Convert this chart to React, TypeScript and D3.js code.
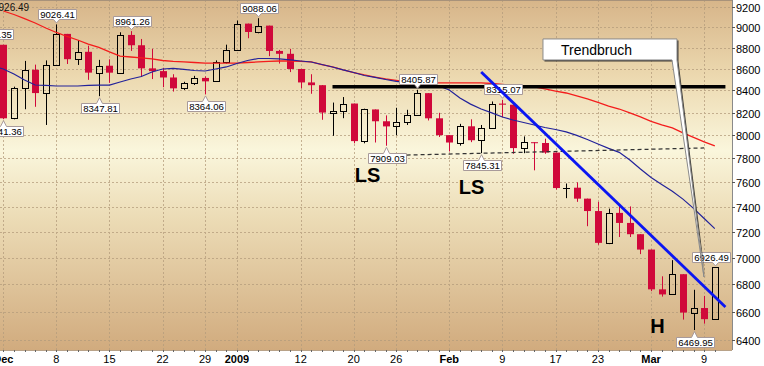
import React from "react";
import * as d3 from "d3";

// ---- data (DJIA daily, Nov 28 2008 .. Mar 10 2009) ----
const dates = [
  "2008-11-28",
  "2008-12-01", "2008-12-02", "2008-12-03", "2008-12-04", "2008-12-05",
  "2008-12-08", "2008-12-09", "2008-12-10", "2008-12-11", "2008-12-12",
  "2008-12-15", "2008-12-16", "2008-12-17", "2008-12-18", "2008-12-19",
  "2008-12-22", "2008-12-23", "2008-12-24", "2008-12-26",
  "2008-12-29", "2008-12-30", "2008-12-31",
  "2009-01-02",
  "2009-01-05", "2009-01-06", "2009-01-07", "2009-01-08", "2009-01-09",
  "2009-01-12", "2009-01-13", "2009-01-14", "2009-01-15", "2009-01-16",
  "2009-01-20", "2009-01-21", "2009-01-22", "2009-01-23",
  "2009-01-26", "2009-01-27", "2009-01-28", "2009-01-29", "2009-01-30",
  "2009-02-02", "2009-02-03", "2009-02-04", "2009-02-05", "2009-02-06",
  "2009-02-09", "2009-02-10", "2009-02-11", "2009-02-12", "2009-02-13",
  "2009-02-17", "2009-02-18", "2009-02-19", "2009-02-20",
  "2009-02-23", "2009-02-24", "2009-02-25", "2009-02-26", "2009-02-27",
  "2009-03-02", "2009-03-03", "2009-03-04", "2009-03-05", "2009-03-06",
  "2009-03-09", "2009-03-10",
];
const open = [
  8726.61,
  8829.04, 8149.09, 8419.09, 8591.69, 8376.24,
  8635.42, 8934.18, 8691.33, 8761.42, 8563.0,
  8629.68, 8564.53, 8924.14, 8824.34, 8604.99,
  8579.11, 8519.69, 8419.49, 8468.48,
  8515.55, 8483.93, 8668.39,
  8776.39,
  9034.69, 8952.89, 9015.1, 8769.7, 8742.46,
  8599.18, 8473.97, 8448.56, 8200.14, 8212.49,
  8281.22, 7949.09, 8228.1, 8122.8,
  8077.56, 8116.03, 8174.73, 8375.45, 8149.01,
  8000.86, 7936.83, 8078.36, 7956.66, 8063.07,
  8280.59, 8270.87, 7888.88, 7939.53, 7932.76,
  7850.41, 7552.6, 7555.63, 7465.95,
  7365.67, 7114.78, 7350.94, 7270.89, 7182.08,
  7062.93, 6763.29, 6726.02, 6875.84, 6594.44,
  6626.94, 6547.05,
];
const high = [
  8831.35,
  8829.04, 8435, 8675, 8640, 8680,
  9026.41, 8934.18, 8875, 8820, 8685,
  8690, 8950, 8961.26, 8885, 8790,
  8610, 8550, 8480, 8535,
  8530, 8680, 8830,
  9065,
  9035, 9088.06, 9015.1, 8780, 8790,
  8600, 8550, 8449, 8290, 8340,
  8281.22, 8235, 8228.1, 8175,
  8243, 8225, 8405.87, 8375.45, 8198,
  8001, 8100, 8140, 8090, 8300,
  8315.07, 8271, 7990, 7940, 7970,
  7850.41, 7590, 7600, 7466,
  7440, 7385, 7420, 7403, 7182.08,
  7063, 6860, 6982, 6876, 6760,
  6715, 6926.49,
];
const low = [
  8726.61,
  8141.36, 8140, 8230, 8252, 8090,
  8635.42, 8646, 8637, 8498, 8347.81,
  8470, 8560, 8770, 8525, 8505,
  8430, 8390, 8405, 8450,
  8364.06, 8480, 8650,
  8770,
  8892, 8940, 8720, 8650, 8570,
  8420, 8370, 8136, 7995, 8150,
  7930, 7930, 7937, 7909.03,
  8000, 8090, 8175, 8130, 7985,
  7860, 7910, 7940, 7845.31, 8063.07,
  8160, 7840, 7845, 7700, 7840,
  7540, 7470, 7440, 7245,
  7100, 7105, 7160, 7160, 7028,
  6750, 6710, 6726, 6544, 6469.95,
  6515, 6547.05,
];
const close = [
  8829.04,
  8149.09, 8419.09, 8591.69, 8376.24, 8635.42,
  8934.18, 8691.33, 8761.42, 8565.09, 8629.68,
  8564.53, 8924.14, 8824.34, 8604.99, 8579.11,
  8519.69, 8419.49, 8468.48, 8515.55,
  8483.93, 8668.39, 8776.39,
  9034.69,
  8952.89, 9015.1, 8769.7, 8742.46, 8599.18,
  8473.97, 8448.56, 8200.14, 8212.49, 8281.22,
  7949.09, 8228.1, 8122.8, 8077.56,
  8116.03, 8174.73, 8375.45, 8149.01, 8000.86,
  7936.83, 8078.36, 7956.66, 8063.07, 8280.59,
  8270.87, 7888.88, 7939.53, 7932.76, 7850.41,
  7552.6, 7555.63, 7465.95, 7365.67,
  7114.78, 7350.94, 7270.89, 7182.08, 7062.93,
  6763.29, 6726.02, 6875.84, 6594.44, 6626.94,
  6547.05, 6926.49,
];
// short moving average (blue)
const maShort = [
  8627, 8599, 8552, 8497, 8450, 8446, 8441, 8441, 8441, 8446, 8450,
  8450, 8478, 8506, 8529, 8571, 8599, 8604, 8595, 8585,
  8580, 8599, 8618, 8651, 8679, 8698, 8698, 8694, 8684, 8674,
  8665, 8641, 8618, 8590, 8566, 8538, 8520, 8501, 8484, 8475,
  8469, 8455, 8441, 8405, 8332, 8276, 8232, 8197, 8161, 8134,
  8112, 8090, 8068, 8050, 8029, 7999, 7963, 7924, 7886, 7852,
  7787, 7711, 7640, 7582, 7526, 7462, 7387, 7306, 7226,
];
// long moving average (red)
const maLong = [
  null, 9160, 9125, 9085, 9041, 8992, 8948, 8909, 8875, 8836, 8803,
  8760, 8721, 8712, 8703, 8694, 8679, 8670, 8665, 8660,
  8655, 8655, 8655, 8655, 8660, 8665, 8670, 8674, 8674, 8670,
  8665, 8641, 8618, 8590, 8566, 8543, 8524, 8506, 8492, 8478,
  8469, 8469, 8469, 8469, 8469, 8469, 8469, 8464, 8455, 8446,
  8441, 8432, 8414, 8395, 8377, 8350, 8323, 8291, 8259, 8232,
  8197, 8161, 8121, 8090, 8064, 8020, 7981, 7942, 7907,
];

const yTicks = [6400, 6600, 6800, 7000, 7200, 7400, 7600, 7800, 8000, 8200, 8400, 8600, 8800, 9000, 9200];
const xTickDates = [
  "2008-12-01", "2008-12-08", "2008-12-15", "2008-12-22", "2008-12-29", "2009-01-02",
  "2009-01-12", "2009-01-20", "2009-01-26", "2009-02-02", "2009-02-09", "2009-02-17",
  "2009-02-23", "2009-03-02", "2009-03-09",
];
const xTickLabels = ["Dec", "8", "15", "22", "29", "2009", "12", "20", "26", "Feb", "9", "17", "23", "Mar", "9"];
const boldTickLabels = ["Dec", "2009", "Feb", "Mar"];

const highCallouts = ["2008-11-28", "2008-12-08", "2008-12-17", "2009-01-06", "2009-01-28", "2009-02-09", "2009-03-10"];
const lowCallouts = ["2008-12-01", "2008-12-12", "2008-12-29", "2009-01-23", "2009-02-05", "2009-03-06"];

const resistanceLine = [{ i: 31, v: 8435 }, { i: 68, v: 8435 }];
const necklineLine = [{ i: 36, v: 7825 }, { i: 66, v: 7890 }];
const trendLine = [{ i: 45, v: 8571 }, { i: 68, v: 6635 }];
const patternLabels = [
  { text: "LS", i: 34.3, v: 7603 },
  { text: "LS", i: 44.1, v: 7504 },
  { text: "H", i: 61.6, v: 6448 },
];
const callout = { text: "Trendbruch", i0: 50.82, i1: 63.44, iBase: 62.97, vTop: 8885, vBottom: 8684, iTip: 65.98, vTip: 6855 };
const lastValueText = "6926.49";

const FONT = "'Liberation Sans', Arial, Helvetica, sans-serif";
const RED = "#d0083a";

export default function App() {
  const W = 764, H = 366, PR = 732, PB = 350;
  const x = d3.scaleLinear().domain([0, 67]).range([3.3, 714.8]);
  const y = d3.scaleLog().domain([6330.7, 9270.4]).range([PB, 0]);
  const pos = (d: string) => dates.indexOf(d) - 1;

  const maLine = d3
    .line<number | null>()
    .defined((v) => v != null)
    .x((_, k) => x(k - 1))
    .y((v) => y(v as number));
  const segLine = d3
    .line<{ i: number; v: number }>()
    .x((p) => x(p.i))
    .y((p) => y(p.v));

  const fs = 9.6;
  const textW = (s: string) => s.split("").reduce((a, c) => a + (c === "." ? 2.78 : 5.56), 0) * fs / 10;

  const cbL = x(callout.i0), cbR = x(callout.i1), cbT = y(callout.vTop), cbB = y(callout.vBottom);
  const cbBase = x(callout.iBase), tipX = x(callout.iTip), tipY = y(callout.vTip);
  const calloutPath = `M${cbL},${cbT}H${cbR}V${cbB}L${tipX},${tipY}L${cbBase},${cbB}H${cbL}Z`;

  const boxX = (cx: number, w: number) => {
    let x0 = Math.round(cx - w / 2) + 0.5;
    if (x0 + w > PR - 1) x0 = PR - 1.5 - w;
    return x0;
  };

  return (
    <svg
      width={W}
      height={H}
      viewBox={`0 0 ${W} ${H}`}
      style={{ position: "absolute", left: 0, top: 0, display: "block", background: "#fff" }}
      fontFamily={FONT}
    >
      <defs>
        <linearGradient id="bg" x1="0" y1="0" x2="0" y2="1">
          <stop offset="0" stopColor="#d7b589" />
          <stop offset="0.22" stopColor="#ecd9b0" />
          <stop offset="0.43" stopColor="#faf6dc" />
          <stop offset="0.62" stopColor="#ecdcb6" />
          <stop offset="1" stopColor="#d1ab7e" />
        </linearGradient>
        <clipPath id="plot">
          <rect x={0} y={0} width={PR} height={PB} />
        </clipPath>
      </defs>
      <rect x={0} y={0} width={PR} height={PB} fill="url(#bg)" />

      {/* grid */}
      <g stroke="#b49c7c" strokeWidth={1} strokeDasharray="2,2" opacity={0.75}>
        {yTicks.map((v) => {
          const yy = Math.round(y(v)) + 0.5;
          return <line key={v} x1={0} x2={PR} y1={yy} y2={yy} />;
        })}
        {xTickDates.map((d) => {
          const xx = Math.round(x(pos(d))) + 0.5;
          return <line key={d} x1={xx} x2={xx} y1={0} y2={PB} />;
        })}
      </g>

      <g clipPath="url(#plot)">
        {/* candles */}
        {dates.map((d, k) => {
          const i = k - 1;
          const cx = Math.round(x(i));
          const o = open[k], c = close[k], h = high[k], l = low[k];
          const yT = y(Math.max(o, c)), yB = y(Math.min(o, c));
          const wx = cx + 0.5;
          if (c >= o) {
            const top = Math.round(yT) + 0.5;
            const bot = Math.max(Math.round(yB) + 0.5, top);
            return (
              <g key={d}>
                <line x1={wx} x2={wx} y1={y(h)} y2={top} stroke="#000" />
                <line x1={wx} x2={wx} y1={bot} y2={y(l)} stroke="#000" />
                {bot - top < 1 ? (
                  <line x1={cx - 3} x2={cx + 4} y1={top} y2={top} stroke="#000" />
                ) : (
                  <rect x={cx - 2.5} y={top} width={6} height={bot - top} fill="none" stroke="#000" />
                )}
              </g>
            );
          }
          return (
            <g key={d}>
              <line x1={wx} x2={wx} y1={y(h)} y2={y(l)} stroke={RED} />
              <rect x={cx - 3} y={yT} width={7} height={Math.max(yB - yT, 1)} fill={RED} />
            </g>
          );
        })}

        {/* moving averages */}
        <path d={maLine(maLong) || ""} fill="none" stroke="#f41c1c" strokeWidth={1.3} />
        <path d={maLine(maShort) || ""} fill="none" stroke="#22229a" strokeWidth={1.2} />

        {/* resistance & neckline */}
        <path d={segLine(resistanceLine) || ""} stroke="#000" strokeWidth={3.5} />
        <path d={segLine(necklineLine) || ""} stroke="#333" strokeWidth={1.2} strokeDasharray="4,3" />

        {/* high / low value callouts */}
        {highCallouts.map((d) => {
          const k = dates.indexOf(d);
          const v = high[k];
          const s = v.toFixed(2);
          const cx = Math.round(x(k - 1)) + 0.5;
          const yv = y(v);
          const w = Math.round(textW(s) + 3);
          const x0 = boxX(cx, w), x1 = x0 + w;
          const yb = Math.round(yv - 5.5) + 0.5, yt = yb - 10;
          const tip = yv - 1.5;
          return (
            <g key={"h" + d}>
              <path
                d={`M${x0},${yt}H${x1}V${yb}H${cx + 3}L${cx},${tip}L${cx - 3},${yb}H${x0}Z`}
                fill="#fff"
                stroke="#a89a9a"
              />
              <text x={(x0 + x1) / 2} y={yb - 2} fontSize={fs} textAnchor="middle" fill="#000">
                {s}
              </text>
            </g>
          );
        })}
        {lowCallouts.map((d) => {
          const k = dates.indexOf(d);
          const v = low[k];
          const s = v.toFixed(2);
          const cx = Math.round(x(k - 1)) + 0.5;
          const yv = y(v);
          const w = Math.round(textW(s) + 3);
          const x0 = boxX(cx, w), x1 = x0 + w;
          const yt = Math.round(yv + 7) + 0.5, yb = yt + 10;
          const tip = yv + 1.5;
          return (
            <g key={"l" + d}>
              <path
                d={`M${x0},${yt}H${cx - 3}L${cx},${tip}L${cx + 3},${yt}H${x1}V${yb}H${x0}Z`}
                fill="#fff"
                stroke="#a89a9a"
              />
              <text x={(x0 + x1) / 2} y={yb - 2} fontSize={fs} textAnchor="middle" fill="#000">
                {s}
              </text>
            </g>
          );
        })}

        {/* trend line */}
        <path d={segLine(trendLine) || ""} stroke="#0b16f2" strokeWidth={2.8} />

        {/* Trendbruch callout */}
        <path d={calloutPath} transform="translate(1.5,1.5)" fill="#222" opacity={0.85} />
        <path d={calloutPath} fill="#fff" stroke="#8a8a8a" strokeWidth={1} />
        <text x={cbL + 18} y={cbB - 5} fontSize={14} fill="#000">
          {callout.text}
        </text>

        {/* pattern labels */}
        {patternLabels.map((p, n) => (
          <text key={n} x={x(p.i)} y={y(p.v)} fontSize={20} fontWeight="bold" textAnchor="middle" fill="#000">
            {p.text}
          </text>
        ))}

        <text x={-7} y={11} fontSize={10} fill="#111">
          {lastValueText}
        </text>
      </g>

      {/* frame */}
      <line x1={0} x2={PR} y1={0.5} y2={0.5} stroke="#a8927a" />

      {/* y axis */}
      <line x1={PR + 0.5} x2={PR + 0.5} y1={0} y2={PB} stroke="#8a8a8a" />
      {yTicks.map((v) => {
        const yy = Math.round(y(v)) + 0.5;
        return (
          <g key={v}>
            <line x1={PR} x2={PR + 3} y1={yy} y2={yy} stroke="#555" />
            <text x={PR + 4} y={yy + 4} fontSize={11} fill="#000">
              {v}
            </text>
          </g>
        );
      })}

      {/* x axis */}
      <line x1={0} x2={PR} y1={PB + 0.5} y2={PB + 0.5} stroke="#b8a288" />
      {dates.map((d, k) => {
        const xx = Math.round(x(k - 1)) + 0.5;
        return <line key={"t" + d} x1={xx} x2={xx} y1={PB} y2={PB + 2} stroke="#666" />;
      })}
      {xTickDates.map((d, n) => (
        <text
          key={"xl" + d}
          x={x(pos(d))}
          y={PB + 13}
          fontSize={11}
          textAnchor="middle"
          fontWeight={boldTickLabels.includes(xTickLabels[n]) ? "bold" : "normal"}
          fill="#000"
        >
          {xTickLabels[n]}
        </text>
      ))}
    </svg>
  );
}
